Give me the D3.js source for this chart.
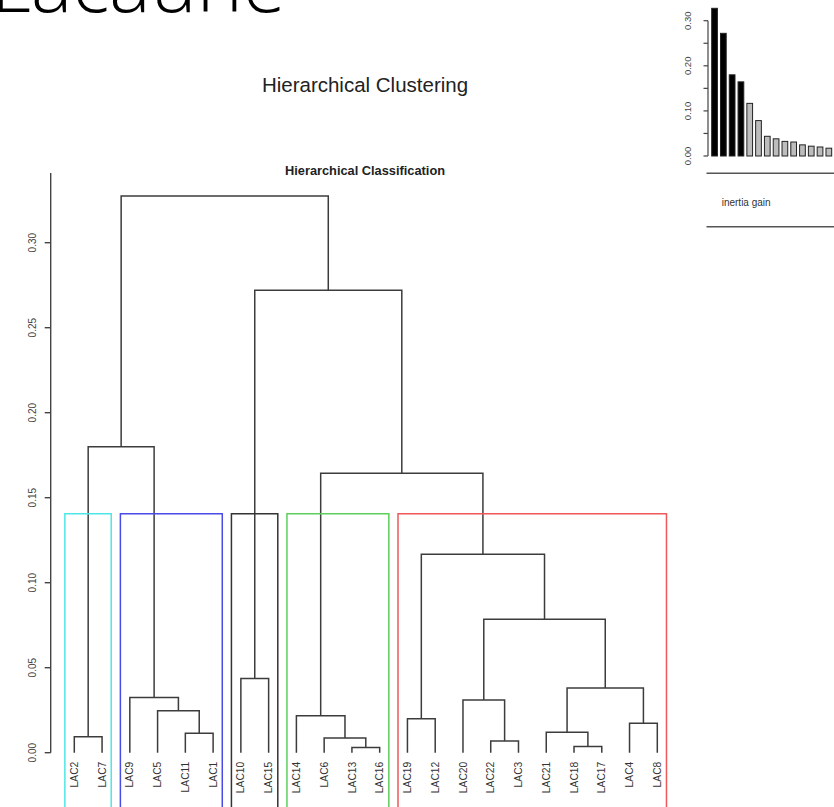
<!DOCTYPE html>
<html>
<head>
<meta charset="utf-8">
<script src="https://cdn.jsdelivr.net/npm/d3@7"></script>
<style>
  html, body { margin: 0; padding: 0; background: #fff; }
  svg { display: block; }
</style>
</head>
<body>
<svg id="chart" width="834" height="807"></svg>
<script>
// ---------------- DATA ----------------
const leafLabels = ["LAC2","LAC7","LAC9","LAC5","LAC11","LAC1","LAC10","LAC15","LAC14","LAC6","LAC13","LAC16",
                    "LAC19","LAC12","LAC20","LAC22","LAC3","LAC21","LAC18","LAC17","LAC4","LAC8"];
// merges in order (strings = leaves, numbers = 1-based earlier merge index)
const mergeLeft  = ["LAC13","LAC18","LAC22","LAC6", "LAC2","LAC11","LAC21","LAC4","LAC19","LAC14","LAC5","LAC20","LAC9", 7, "LAC10",12, 9,10, 5,15,19];
const mergeRight = ["LAC16","LAC17","LAC3", 1,      "LAC7","LAC1", 2,      "LAC8","LAC12", 4,      6,     3,      11,     8, "LAC15",14,16,17,13,18,20];
const mergeHeight = [0.0030,0.0037,0.0069,0.0087,0.0094,0.0114,0.0120,0.0173,0.0200,0.0218,0.0247,0.0310,0.0324,
                     0.0381,0.0437,0.0785,0.1167,0.1644,0.1800,0.2720,0.3275];
const nClusters = 5;
const clusterColors = ["#4fe6e6","#4a4ae8","#333333","#5ccf5c","#ef5858"];
const axisTicks = [0.00,0.05,0.10,0.15,0.20,0.25,0.30];
const barTicks = [0.00,0.05,0.10,0.15,0.20,0.25,0.30];
const barTickLabels = [0.00,0.10,0.20,0.30];
const headerText = "Lacaune";
const mainTitle = "Hierarchical Clustering";
const subTitle = "Hierarchical Classification";
const legendText = "inertia gain";

// ---------------- SETUP ----------------
const svg = d3.select("#chart");
const font = "'Liberation Sans', Arial, sans-serif";
const lineCol = "#3c3c3c";

// header text (cut at top)
svg.append("text").attr("x", -9).attr("y", 12)
  .attr("font-family", "'Open Sans', Lato, sans-serif").attr("font-weight", 300)
  .attr("font-size", 78).attr("fill", "#000").text(headerText);

svg.append("text").attr("x", 365).attr("y", 92).attr("text-anchor", "middle")
  .attr("font-family", font).attr("font-size", 20.5).attr("fill", "#222").text(mainTitle);

svg.append("text").attr("x", 365).attr("y", 174.5).attr("text-anchor", "middle")
  .attr("font-family", font).attr("font-weight", "bold").attr("font-size", 12.8).attr("fill", "#222").text(subTitle);

// ---------------- DENDROGRAM ----------------
const x = d3.scaleLinear().domain([0, leafLabels.length - 1]).range([74.3, 657.3]);
const y = d3.scaleLinear().domain([0, 0.341]).range([752.7, 173]);

const leafIndex = new Map(leafLabels.map((l, i) => [l, i]));
const nodes = []; // merged nodes
function nodeOf(ref) {
  if (typeof ref === "string") return { x: leafIndex.get(ref), h: 0, lo: leafIndex.get(ref), hi: leafIndex.get(ref) };
  return nodes[ref - 1];
}
mergeHeight.forEach((h, i) => {
  const a = nodeOf(mergeLeft[i]), b = nodeOf(mergeRight[i]);
  nodes.push({ x: (a.x + b.x) / 2, h, a, b, lo: Math.min(a.lo, b.lo), hi: Math.max(a.hi, b.hi) });
});

const g = svg.append("g");
g.selectAll("path.link").data(nodes).join("path")
  .attr("class", "link")
  .attr("d", n => `M${x(n.a.x)},${y(n.a.h)}V${y(n.h)}H${x(n.b.x)}V${y(n.b.h)}`)
  .attr("fill", "none").attr("stroke", lineCol).attr("stroke-width", 1.5);

// leaf labels
g.selectAll("text.leaf").data(leafLabels).join("text")
  .attr("class", "leaf")
  .attr("transform", (d, i) => `translate(${x(i)},${y(0) + 9}) rotate(-90)`)
  .attr("text-anchor", "end").attr("dy", "0.35em")
  .attr("font-family", font).attr("font-size", 10.3).attr("fill", "#333").text(d => d);

// left axis
const axisG = svg.append("g").attr("transform", `translate(50.7,0)`);
axisG.append("line").attr("x1", 0).attr("x2", 0).attr("y1", y(0.341)).attr("y2", y(0))
  .attr("stroke", "#444").attr("stroke-width", 1.4);
axisG.selectAll("line.tick").data(axisTicks).join("line").attr("class", "tick")
  .attr("x1", -6).attr("x2", 0).attr("y1", d => y(d)).attr("y2", d => y(d))
  .attr("stroke", "#444").attr("stroke-width", 1.4);
axisG.selectAll("text.tick").data(axisTicks).join("text").attr("class", "tick")
  .attr("transform", d => `translate(-18.5,${y(d)}) rotate(-90)`)
  .attr("text-anchor", "middle").attr("dy", "0.35em")
  .attr("font-family", font).attr("font-size", 10).attr("fill", "#444").text(d => d.toFixed(2));

// cluster rectangles
const sortedH = mergeHeight.slice().sort((p, q) => q - p);
const cutH = (sortedH[nClusters - 2] + sortedH[nClusters - 1]) / 2;
const clusters = [];
(function collect(n) {
  if (n.h === 0 || n.h < cutH) { clusters.push(n); return; }
  collect(n.a); collect(n.b);
})(nodes[nodes.length - 1]);
clusters.sort((p, q) => p.lo - q.lo);
g.selectAll("rect.cl").data(clusters).join("rect").attr("class", "cl")
  .attr("x", d => x(d.lo - 0.34)).attr("width", d => x(d.hi + 0.33) - x(d.lo - 0.34))
  .attr("y", y(cutH)).attr("height", y(-0.045) - y(cutH))
  .attr("fill", "none").attr("stroke", (d, i) => clusterColors[i]).attr("stroke-width", 1.5);

// ---------------- INERTIA GAIN BARS ----------------
const bx = d3.scaleBand().domain(d3.range(sortedH.length)).range([710.16, 710.16 + sortedH.length * 8.79])
  .paddingInner(0.35).paddingOuter(0.175);
const by = d3.scaleLinear().domain([0, 0.30]).range([156, 20.7]);
const bg = svg.append("g");
bg.selectAll("rect.bar").data(sortedH).join("rect").attr("class", "bar")
  .attr("x", (d, i) => bx(i)).attr("width", bx.bandwidth())
  .attr("y", d => by(d)).attr("height", d => by(0) - by(d))
  .attr("fill", (d, i) => i < nClusters - 1 ? "#000" : "#bdbdbd")
  .attr("stroke", "#222").attr("stroke-width", 1);
bg.append("line").attr("x1", 708).attr("x2", 708).attr("y1", by(0)).attr("y2", by(0.30))
  .attr("stroke", "#444").attr("stroke-width", 1.2);
bg.selectAll("line.tick").data(barTicks).join("line").attr("class", "tick")
  .attr("x1", 703.5).attr("x2", 708).attr("y1", d => by(d)).attr("y2", d => by(d))
  .attr("stroke", "#444").attr("stroke-width", 1.2);
bg.selectAll("text.tick").data(barTickLabels).join("text").attr("class", "tick")
  .attr("transform", d => `translate(688,${by(d)}) rotate(-90)`)
  .attr("text-anchor", "middle").attr("dy", "0.35em")
  .attr("font-family", font).attr("font-size", 9.5).attr("fill", "#444").text(d => d.toFixed(2));

// legend box lines + text
bg.append("line").attr("x1", 706.5).attr("x2", 834).attr("y1", 173.3).attr("y2", 173.3)
  .attr("stroke", "#555").attr("stroke-width", 1.5);
bg.append("line").attr("x1", 706.5).attr("x2", 834).attr("y1", 226.7).attr("y2", 226.7)
  .attr("stroke", "#555").attr("stroke-width", 1.5);
bg.append("text").attr("x", 721.7).attr("y", 202).attr("dy", "0.35em")
  .attr("font-family", font).attr("font-size", 10).attr("fill", "#333").text(legendText);
</script>
</body>
</html>
